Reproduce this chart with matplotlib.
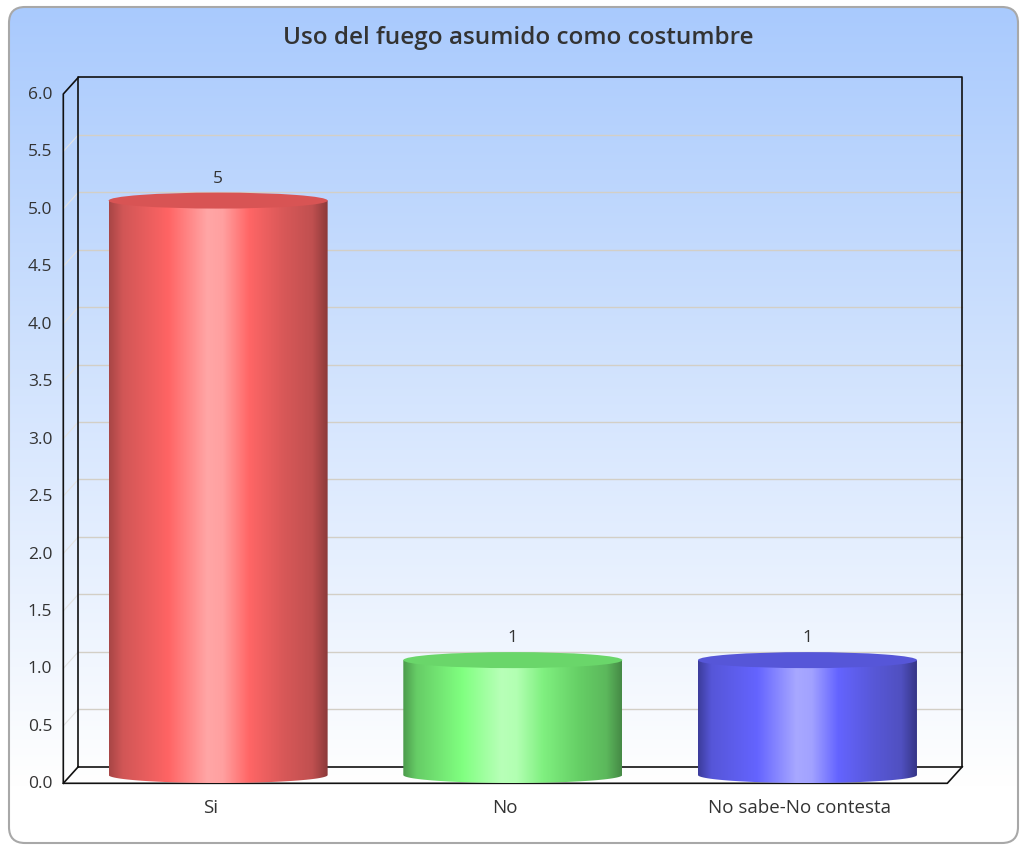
#%% Libraries:

import numpy as np
import matplotlib.pyplot as plt
from matplotlib.patches import FancyBboxPatch, Ellipse, Polygon
from matplotlib.colors import to_rgb


#%% Data:

categories = ["Si", "No", "No sabe-No contesta"]
values = [5, 1, 1]
y_ticks = [0.0, 0.5, 1.0, 1.5, 2.0, 2.5, 3.0, 3.5, 4.0, 4.5, 5.0, 5.5, 6.0]
title = "Uso del fuego asumido como costumbre"

# colour stops across each cylinder (left -> right)
bar_stops = [
    ["#a84646", "#d05656", "#ff6464", "#ffa6a6", "#ffa0a0", "#ff6666", "#d85858", "#c05050", "#8c3a3a"],
    ["#4c9c4c", "#66cc66", "#80ff80", "#b8ffb8", "#b2ffb2", "#80f080", "#66d066", "#5cb85c", "#468a46"],
    ["#3c3c9c", "#5656d8", "#6464ff", "#a8a8ff", "#a2a2ff", "#6464ff", "#5858d8", "#5050c0", "#363688"],
]
stop_pos = [0.0, 0.06, 0.27, 0.45, 0.52, 0.64, 0.8, 0.93, 1.0]
top_colors = ["#d85454", "#6ad66a", "#5656d8"]

plt.rcParams['font.family'] = ['Open Sans', 'DejaVu Sans']

W, H = 1021, 846
fig = plt.figure(figsize=(W / 100, H / 100), dpi=100)

#%% Background panel with gradient

bg = fig.add_axes([0, 0, 1, 1])
bg.set_xlim(0, W)
bg.set_ylim(H, 0)
bg.axis("off")

panel = FancyBboxPatch((9, 7), 1009, 836, boxstyle="round,pad=0,rounding_size=16",
                       facecolor="none", edgecolor="#a8a8a8", linewidth=1.5, zorder=3)
bg.add_patch(panel)

top = np.array(to_rgb("#a9cafd"))
rows = np.linspace(7, 843, 400)
frac = np.clip((rows - 7) / (785 - 7), 0, 1)[:, None]
grad = top + (1 - top) * frac
im = bg.imshow(grad[:, None, :], extent=(9, 1018, 843, 7), aspect="auto", zorder=1)
im.set_clip_path(panel)

fig.text(518 / W, 1 - 38 / H, title, ha="center", va="center", fontsize=17.5,
         fontweight="semibold", color="#333333")

#%% Plot area (mid-depth plane)

x0, x1 = 70.8, 954.8
y0, y1 = 775.0, 85.7
ax = fig.add_axes([x0 / W, 1 - y0 / H, (x1 - x0) / W, (y0 - y1) / H])
ax.patch.set_visible(False)
ax.axis("off")

n = len(categories)
xmin, xmax = -0.5, n - 0.5
ymax = y_ticks[-1]
dxd = 7.5 * n / (x1 - x0)
dyd = 8.3 * ymax / (y0 - y1)

# back wall
ax.plot([xmin + dxd, xmin + dxd, xmax + dxd, xmax + dxd, xmin + dxd],
        [dyd, ymax + dyd, ymax + dyd, dyd, dyd], color="#111111", lw=1.2, clip_on=False, zorder=3)
for t in y_ticks[1:-1]:
    ax.plot([xmin + dxd, xmax + dxd], [t + dyd, t + dyd], color="#d3cfc6", lw=1, clip_on=False, zorder=2)
    ax.plot([xmin - dxd, xmin + dxd], [t - dyd, t + dyd], color="#e2e2e2", lw=0.8, clip_on=False, zorder=2)

# front edges
ax.plot([xmin + dxd, xmin - dxd, xmin - dxd, xmax - dxd, xmax + dxd],
        [ymax + dyd, ymax - dyd, -dyd, -dyd, dyd], color="#111111", lw=1.2, clip_on=False, zorder=3)
ax.plot([xmin - dxd, xmin + dxd], [-dyd, dyd], color="#111111", lw=1.2, clip_on=False, zorder=3)

# cylinders
bw = 219 * n / (x1 - x0)
eh = 16 * ymax / (y0 - y1)
u = np.linspace(0, 1, 256)
for i, (v, stops) in enumerate(zip(values, bar_stops)):
    rgb = np.array([to_rgb(c) for c in stops])
    row = np.stack([np.interp(u, stop_pos, rgb[:, k]) for k in range(3)], axis=1)
    t = np.linspace(0, np.pi, 60)
    pts = [(i - bw / 2, v), (i + bw / 2, v)]
    pts += list(zip(i + bw / 2 * np.cos(t), -eh / 2 * np.sin(t)))
    clip = Polygon(pts, closed=True, facecolor="none", edgecolor="none")
    ax.add_patch(clip)
    body = ax.imshow(row[None, :, :], extent=(i - bw / 2, i + bw / 2, -eh / 2, v),
                     aspect="auto", zorder=4)
    body.set_clip_box(fig.bbox)
    body.set_clip_path(clip)
    ax.add_patch(Ellipse((i, v), bw, eh, facecolor=top_colors[i], edgecolor="none", zorder=5))
    ax.annotate(str(v), (i, v), xytext=(0, 22), textcoords="offset pixels",
                ha="center", va="center", fontsize=12.5, color="#333333", zorder=6,
                annotation_clip=False)
    ax.annotate(categories[i], (i - dxd, -dyd), xytext=(0, -25), textcoords="offset pixels",
                ha="center", va="center", fontsize=13.5, color="#333333", annotation_clip=False)

# y tick labels
for t in y_ticks:
    ax.annotate(f"{t:.1f}", (xmin - dxd, t - dyd), xytext=(-11, -1), textcoords="offset pixels",
                ha="right", va="center", fontsize=12.5, color="#333333", annotation_clip=False)

ax.set_xlim(xmin, xmax)
ax.set_ylim(0, ymax)

plt.savefig("out.png", dpi=100)
